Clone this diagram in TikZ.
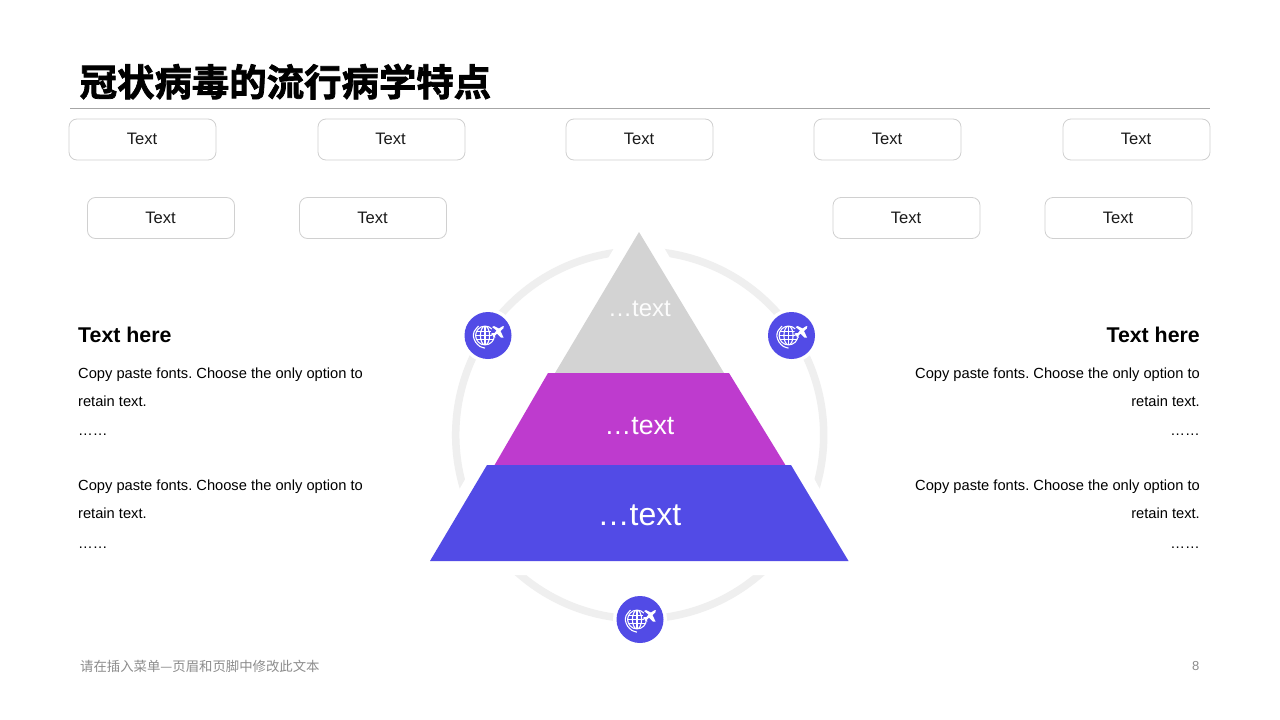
\documentclass[tikz,border=0pt]{standalone}
\usepackage{fontspec}
\setmainfont{Liberation Sans}
\newfontfamily\cjk{Noto Sans CJK SC}
\newfontfamily\cjkheavy[FakeBold=2]{Noto Sans CJK SC Bold}
\frenchspacing
\definecolor{ringgrey}{HTML}{EFEFEF}
\definecolor{topgrey}{HTML}{D3D3D3}
\definecolor{midpurple}{HTML}{BE3BCE}
\definecolor{lowblue}{HTML}{524BE6}
\definecolor{boxline}{HTML}{D0D0D0}
\definecolor{rulegrey}{HTML}{A6A6A6}
\definecolor{footgrey}{HTML}{8C8C8C}
\definecolor{bodyink}{HTML}{1A1A1A}
\tikzset{
  x=1pt,y=-1pt,
  tagbox/.style={draw=boxline,line width=0.8pt,rounded corners=8pt,fill=white,minimum width=147pt,minimum height=41pt,inner sep=0pt,text=bodyink,font=\fontsize{16.6}{16}\selectfont},
  taglabel/.style={inner sep=0pt,text=bodyink,font=\fontsize{16.6}{16}\selectfont},
  lefttext/.style={anchor=base west,inner sep=0pt,text=black,font=\fontsize{14.67}{14}\selectfont},
  righttext/.style={anchor=base east,inner sep=0pt,text=black,font=\fontsize{14.67}{14}\selectfont},
  headtext/.style={inner sep=0pt,text=black,font=\fontsize{21.33}{21}\selectfont\bfseries},
  layertext/.style={text=white,inner sep=0pt,anchor=base},
  gapshape/.style={fill=white,draw=none},
  globeicon/.pic={
    \fill[white] (0,0) circle[radius=27];
    \fill[lowblue] (0,0) circle[radius=23.5];
    \begin{scope}[white,line width=1.1pt]
      \draw (-3,0) circle[radius=9.4];
      \begin{scope}
        \clip (-3,0) circle[radius=9.4];
        \draw (-3,0) ellipse[x radius=4.6,y radius=9.4];
        \draw (-3,-10) -- (-3,10);
        \draw (-13,-4) -- (7,-4) (-13,0) -- (7,0) (-13,4.2) -- (7,4.2);
      \end{scope}
      \draw[line width=1.1pt] plot[smooth] coordinates {(-9.5,-9.5) (-13.8,-4) (-14.6,1) (-12.5,6.5) (-8,11) (-3,12.6)};
    \end{scope}
    \fill[lowblue] (9.5,-3.5) circle[radius=6.5];
    \fill[white] (14,-9) -- (15.8,-9.5) -- (15.3,-7) -- (12.5,-4.5) -- (15.5,2) -- (13,2.2) -- (9,-2) -- (7,0) -- (7.3,2.5) -- (5.5,1.5) -- (4.3,-0.5) -- (2.5,-1.5) -- (4.5,-2.5) -- (6.5,-2.5) -- (8.5,-5) -- (4,-8.5) -- (6,-9.5) -- (11,-7) -- cycle;
  }
}
\begin{document}
\begin{tikzpicture}
\useasboundingbox (0,0) rectangle (1280,720);
\fill[white] (0,0) rectangle (1280,720);
% ring and its gaps
\draw[ringgrey,line width=7.5pt] (639.7,435) circle[radius=184];
\fill[gapshape] (639,206) -- (743,380) -- (536,380) -- cycle;
\fill[gapshape] (482,450) -- (798,450) -- (868,575) -- (410,575) -- cycle;
% pyramid
\fill[topgrey] (639,232) -- (724,373) -- (555,373) -- cycle;
\fill[midpurple] (548,373) -- (729,373) -- (786,466) -- (494,466) -- cycle;
\fill[lowblue] (487,465) -- (791,465) -- (848.5,561) -- (430,561) -- cycle;
\node[layertext,font=\fontsize{24}{24}\selectfont,text=white!94!topgrey] (layerA) at (639.5,316.5) {…text};
\node[layertext,font=\fontsize{26.67}{26}\selectfont] (layerB) at (639.5,434) {…text};
\node[layertext,font=\fontsize{32}{32}\selectfont] (layerC) at (639.5,525.5) {…text};
% icons
\pic at (488,335.5) {globeicon};
\pic at (791.5,335.5) {globeicon};
\pic at (640,619.5) {globeicon};
% title
\node[anchor=base west,inner sep=0pt,font=\fontsize{37.4}{37}\selectfont\cjkheavy] (title) at (79.5,96) {冠状病毒的流行病学特点};
\draw[rulegrey,line width=0.9pt] (70,108) coordinate (ruleL) -- (1210,108) coordinate (ruleR);
% tags
\node[tagbox] (t1) at (142.5,139.5) {};
\node[tagbox] (t2) at (391.5,139.5) {};
\node[tagbox] (t3) at (639.5,139.5) {};
\node[tagbox] (t4) at (887.5,139.5) {};
\node[tagbox] (t5) at (1136.5,139.5) {};
\node[tagbox] (t6) at (161,218) {};
\node[tagbox] (t7) at (373,218) {};
\node[tagbox] (t8) at (906.5,218) {};
\node[tagbox] (t9) at (1118.5,218) {};
\node[taglabel] (t1x) at (142,139) {Text};
\node[taglabel] (t2x) at (390.5,139) {Text};
\node[taglabel] (t3x) at (639,139) {Text};
\node[taglabel] (t4x) at (887,139) {Text};
\node[taglabel] (t5x) at (1136,139) {Text};
\node[taglabel] (t6x) at (160.5,218) {Text};
\node[taglabel] (t7x) at (372.5,218) {Text};
\node[taglabel] (t8x) at (906,218) {Text};
\node[taglabel] (t9x) at (1118,218) {Text};
% left column
\node[headtext,anchor=base west] (hl) at (78,342) {Text here};
\node[lefttext] (l1) at (78,378) {Copy paste fonts. Choose the only option to};
\node[lefttext] (l2) at (78,406) {retain text.};
\node[lefttext] (l3) at (78,435) {……};
\node[lefttext] (l4) at (78,490.5) {Copy paste fonts. Choose the only option to};
\node[lefttext] (l5) at (78,518.5) {retain text.};
\node[lefttext] (l6) at (78,548) {……};
% right column
\node[headtext,anchor=base east] (hr) at (1200,342) {Text here};
\node[righttext] (r1) at (1200,378) {Copy paste fonts. Choose the only option to};
\node[righttext] (r2) at (1200,406) {retain text.};
\node[righttext] (r3) at (1200,435) {……};
\node[righttext] (r4) at (1200,490.5) {Copy paste fonts. Choose the only option to};
\node[righttext] (r5) at (1200,518.5) {retain text.};
\node[righttext] (r6) at (1200,548) {……};
% footer
\node[anchor=base west,inner sep=0pt,text=footgrey,font=\fontsize{13.38}{13}\selectfont\cjk] (foot) at (80,671) {请在插入菜单—页眉和页脚中修改此文本};
\node[anchor=base east,inner sep=0pt,text=footgrey,font=\fontsize{13}{13}\selectfont] (pageno) at (1199.5,670.5) {8};
\end{tikzpicture}
\end{document}
